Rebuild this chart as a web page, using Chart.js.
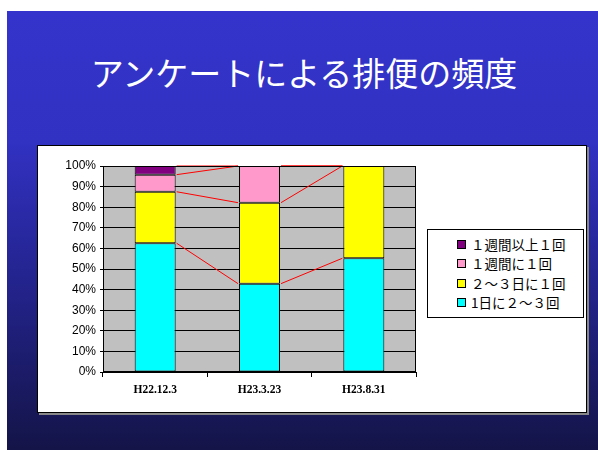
<!DOCTYPE html>
<html>
<head>
<meta charset="utf-8">
<script src="https://cdn.jsdelivr.net/npm/chart.js@4"></script>
<style>
  html, body { margin: 0; padding: 0; background: #fff; }
  #slide {
    position: absolute; left: 7px; top: 11px; width: 591px; height: 439px;
    background: linear-gradient(to bottom, #3434cc 0%, #3131c2 30%, #222288 65%, #141448 100%);
  }
  #title {
    position: absolute; left: 0; top: 48px; width: 608px; text-align: center;
    font-family: "Noto Sans CJK JP", sans-serif; font-size: 33px; color: #fff;
  }
  #panel {
    position: absolute; left: 37px; top: 145px; width: 548px; height: 266px;
    background: #fff; border: 1px solid #000;
    box-shadow: 2px 2px 0 #888;
  }
  #chartBox { position: absolute; left: 37px; top: 145px; width: 549px; height: 267px; }
  #legend {
    position: absolute; left: 427px; top: 229px; width: 155px; height: 87px;
    background: #fff; border: 1px solid #000;
    font-family: "Noto Sans CJK JP", sans-serif; font-size: 13.5px; color: #000;
  }
  .item { position: absolute; left: 29px; height: 18px; line-height: 18px; white-space: nowrap; }
  .sw { display: inline-block; width: 7px; height: 7px; border: 1px solid #000; margin-right: 5px; vertical-align: 1px; }
</style>
</head>
<body>
<div id="slide"></div>
<div id="title">アンケートによる排便の頻度</div>
<div id="panel"></div>
<div id="chartBox"><canvas id="chart" width="549" height="267"></canvas></div>
<div id="legend"></div>
<script>
// survey dates
const dates = ['H22.12.3', 'H23.3.23', 'H23.8.31'];

// share of answers (%), bottom of the stack first
const oneDayTwoThree = [62.5, 42.9, 55.2];
const twoThreeDaysOnce = [25.0, 39.3, 44.8];
const weekOnce = [8.3, 17.8, 0];
const weekOrMoreOnce = [4.2, 0, 0];

const seriesNames = ['1日に２～３回', '２～３日に１回', '１週間に１回', '１週間以上１回'];
const seriesColors = ['#00ffff', '#ffff00', '#ff99cc', '#800080'];

const yTicks = [0, 10, 20, 30, 40, 50, 60, 70, 80, 90, 100];

const values = [oneDayTwoThree, twoThreeDaysOnce, weekOnce, weekOrMoreOnce];

// gray plot background
const plotBg = {
  id: 'plotBg',
  beforeDraw(chart) {
    const { ctx, chartArea: a } = chart;
    ctx.save();
    ctx.fillStyle = '#c0c0c0';
    ctx.fillRect(a.left, a.top, a.right - a.left, a.bottom - a.top);
    ctx.restore();
  }
};

// red lines joining the top of each segment between neighbouring bars
const seriesLines = {
  id: 'seriesLines',
  afterDatasetsDraw(chart) {
    const { ctx, scales } = chart;
    const y = scales.y;
    ctx.save();
    ctx.strokeStyle = '#ff0000';
    ctx.lineWidth = 1;
    values.forEach((_, d) => {
      for (let i = 0; i < dates.length - 1; i++) {
        let c1 = 0, c2 = 0;
        for (let k = 0; k <= d; k++) { c1 += values[k][i] || 0; c2 += values[k][i + 1] || 0; }
        if (c1 >= 100 && c2 >= 100) continue;
        const b1 = chart.getDatasetMeta(0).data[i];
        const b2 = chart.getDatasetMeta(0).data[i + 1];
        ctx.beginPath();
        ctx.moveTo(b1.x + b1.width / 2 + 1, y.getPixelForValue(c1));
        ctx.lineTo(b2.x - b2.width / 2 - 1, y.getPixelForValue(c2));
        ctx.stroke();
      }
    });
    ctx.restore();
  }
};

// black frame round the plot
const plotFrame = {
  id: 'plotFrame',
  afterDraw(chart) {
    const { ctx, chartArea: a } = chart;
    ctx.save();
    ctx.strokeStyle = '#000';
    ctx.lineWidth = 1;
    ctx.strokeRect(Math.round(a.left) + 0.5, Math.round(a.top) + 0.5,
      Math.round(a.right - a.left) - 1, Math.round(a.bottom - a.top) - 1);
    ctx.restore();
  }
};

new Chart(document.getElementById('chart'), {
  type: 'bar',
  data: {
    labels: dates,
    datasets: values.map((v, i) => ({
      label: seriesNames[i],
      data: v,
      backgroundColor: seriesColors[i],
      borderColor: '#000',
      borderWidth: 1,
      borderSkipped: false,
      categoryPercentage: 1,
      barPercentage: 0.393
    }))
  },
  options: {
    responsive: false,
    animation: false,
    layout: { padding: { top: 21, right: 170, left: 0, bottom: 0 } },
    plugins: { legend: { display: false }, tooltip: { enabled: false } },
    scales: {
      x: {
        stacked: true,
        grid: { display: true, drawOnChartArea: false, drawTicks: true, tickLength: 5, offset: true, color: '#000' },
        border: { color: '#000' },
        ticks: {
          color: '#000', padding: 6,
          font: { family: '"Liberation Serif", serif', size: 11.5, weight: 'bold' }
        },
        afterFit(s) { s.height = 40; }
      },
      y: {
        stacked: true,
        min: 0, max: 100,
        afterBuildTicks(s) { s.ticks = yTicks.map(v => ({ value: v })); },
        grid: { color: '#000', lineWidth: 1, tickLength: 3 },
        border: { color: '#000' },
        ticks: {
          color: '#000', padding: 4,
          font: { family: '"Liberation Sans", Arial, sans-serif', size: 12 },
          callback: v => v + '%'
        },
        afterFit(s) { s.width = 66; }
      }
    }
  },
  plugins: [plotBg, seriesLines, plotFrame]
});

// legend, top entry is the top of the stack
const legend = document.getElementById('legend');
const rowTops = [5, 24, 44, 63];
seriesNames.slice().reverse().forEach((name, i) => {
  const idx = seriesNames.length - 1 - i;
  const row = document.createElement('div');
  row.className = 'item';
  row.style.top = rowTops[i] + 'px';
  row.innerHTML = '<span class="sw" style="background:' + seriesColors[idx] + '"></span>' + name;
  legend.appendChild(row);
});
</script>
</body>
</html>
